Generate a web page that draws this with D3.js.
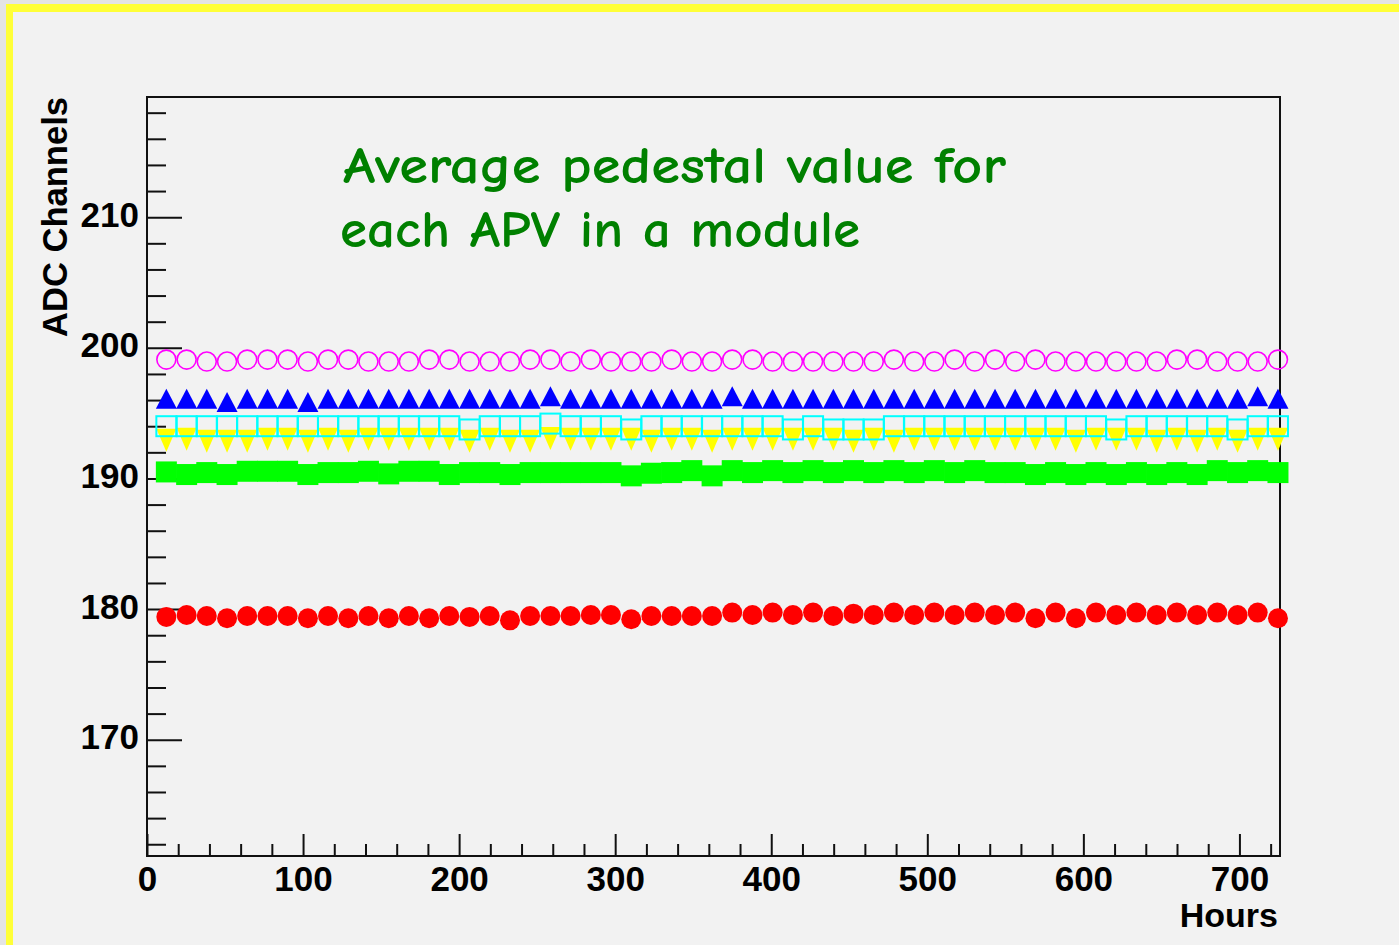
<!DOCTYPE html>
<html>
<head>
<meta charset="utf-8">
<script src="https://cdn.jsdelivr.net/npm/d3@7/dist/d3.min.js"></script>
<style>
  html, body { margin: 0; padding: 0; background: #e4e4e4; }
  svg { display: block; }
</style>
</head>
<body>
<script>
// ---------------- DATA ----------------
const hours = [12.4, 25.4, 38.3, 51.3, 64.2, 77.2, 90.1, 103.1, 116.0, 129.0,
  141.9, 154.9, 167.8, 180.8, 193.7, 206.7, 219.6, 232.6, 245.5, 258.5,
  271.4, 284.4, 297.3, 310.3, 323.2, 336.2, 349.1, 362.1, 375.0, 388.0,
  400.9, 413.9, 426.8, 439.8, 452.7, 465.7, 478.6, 491.6, 504.5, 517.5,
  530.4, 543.4, 556.3, 569.3, 582.2, 595.2, 608.1, 621.1, 634.0, 647.0,
  659.9, 672.9, 685.8, 698.8, 711.7, 724.7];

const apvMagenta = [199.1, 199.1, 198.95, 198.95, 199.1, 199.1, 199.1, 198.95, 199.1, 199.1,
  198.95, 198.95, 198.95, 199.1, 199.1, 198.95, 198.95, 198.95, 199.1, 199.1,
  198.95, 199.1, 198.95, 198.95, 198.95, 199.1, 198.95, 198.95, 199.1, 199.1,
  198.95, 198.95, 198.95, 198.95, 198.95, 198.95, 199.1, 198.95, 198.95, 199.1,
  198.95, 199.1, 198.95, 199.1, 198.95, 198.95, 198.95, 198.95, 198.95, 198.95,
  199.1, 199.1, 198.95, 198.95, 198.95, 199.1];

const apvBlue = [196.1, 196.1, 196.1, 195.85, 196.1, 196.1, 196.1, 195.85, 196.1, 196.1,
  196.1, 196.1, 196.1, 196.1, 196.1, 196.1, 196.1, 196.1, 196.1, 196.3,
  196.1, 196.1, 196.1, 196.1, 196.1, 196.1, 196.1, 196.1, 196.3, 196.1,
  196.1, 196.1, 196.1, 196.1, 196.1, 196.1, 196.1, 196.1, 196.1, 196.1,
  196.1, 196.1, 196.1, 196.1, 196.1, 196.1, 196.1, 196.1, 196.1, 196.1,
  196.1, 196.1, 196.1, 196.1, 196.3, 196.1];

const apvCyan = [194.0, 194.0, 194.0, 194.0, 194.0, 194.0, 194.0, 194.0, 194.0, 194.0,
  194.0, 194.0, 194.0, 194.0, 194.0, 193.75, 194.0, 194.0, 194.0, 194.2,
  194.0, 194.0, 194.0, 193.75, 194.0, 194.0, 194.0, 194.0, 194.0, 194.0,
  194.0, 193.75, 194.0, 193.75, 193.75, 193.75, 194.0, 194.0, 194.0, 194.0,
  194.0, 194.0, 194.0, 194.0, 194.0, 194.0, 194.0, 193.75, 194.0, 194.0,
  194.0, 194.0, 194.0, 193.75, 194.0, 194.0];

const apvYellow = [192.93, 193.0, 192.85, 192.85, 192.85, 193.0, 193.0, 192.85, 193.0, 192.85,
  193.0, 193.0, 193.0, 193.0, 193.0, 192.85, 193.0, 192.85, 192.85, 193.05,
  193.0, 193.0, 193.0, 193.0, 192.85, 193.0, 193.0, 192.85, 193.0, 193.0,
  193.0, 193.0, 193.0, 193.0, 192.85, 193.0, 192.85, 193.0, 193.0, 193.0,
  193.0, 193.0, 193.0, 193.0, 193.0, 192.85, 193.0, 193.0, 193.0, 192.85,
  193.0, 192.85, 193.0, 192.85, 193.0, 193.0];

const apvGreen = [190.5, 190.3, 190.45, 190.3, 190.55, 190.55, 190.55, 190.3, 190.45, 190.45,
  190.55, 190.35, 190.55, 190.55, 190.3, 190.45, 190.45, 190.3, 190.45, 190.45,
  190.45, 190.45, 190.45, 190.2, 190.4, 190.45, 190.6, 190.2, 190.6, 190.45,
  190.6, 190.45, 190.6, 190.45, 190.6, 190.45, 190.6, 190.45, 190.6, 190.45,
  190.6, 190.45, 190.45, 190.3, 190.45, 190.3, 190.45, 190.3, 190.45, 190.3,
  190.45, 190.3, 190.6, 190.45, 190.6, 190.45];

const apvRed = [179.4, 179.55, 179.47, 179.3, 179.47, 179.47, 179.47, 179.3, 179.47, 179.3,
  179.47, 179.3, 179.47, 179.3, 179.47, 179.4, 179.47, 179.14, 179.47, 179.47,
  179.47, 179.55, 179.55, 179.22, 179.47, 179.47, 179.47, 179.47, 179.73, 179.55,
  179.73, 179.55, 179.73, 179.47, 179.65, 179.55, 179.73, 179.55, 179.73, 179.55,
  179.73, 179.55, 179.73, 179.3, 179.73, 179.3, 179.73, 179.55, 179.73, 179.55,
  179.73, 179.55, 179.73, 179.55, 179.73, 179.3];

const xMajorTicks = [0, 100, 200, 300, 400, 500, 600, 700];
const xMinorTicks = [20, 40, 60, 80, 120, 140, 160, 180, 220, 240, 260, 280, 320, 340, 360, 380,
  420, 440, 460, 480, 520, 540, 560, 580, 620, 640, 660, 680, 720];
const yMajorTicks = [170, 180, 190, 200, 210];
const yMinorTicks = [162, 164, 166, 168, 172, 174, 176, 178, 182, 184, 186, 188,
  192, 194, 196, 198, 202, 204, 206, 208, 212, 214, 216, 218];

const xTitle = "Hours";
const yTitle = "ADC Channels";
const titleLines = ["Average pedestal value for", "each APV in a module"];

// ---------------- DRAW ----------------
const W = 1399, H = 945;
const svg = d3.select("body").append("svg").attr("width", W).attr("height", H);

svg.append("rect").attr("x", 0).attr("y", 0).attr("width", W).attr("height", H).attr("fill", "#e4e4e4");
svg.append("rect").attr("x", 6).attr("y", 4).attr("width", W).attr("height", H).attr("fill", "#ffff38");
svg.append("rect").attr("x", 13).attr("y", 12).attr("width", W).attr("height", H).attr("fill", "#f2f2f2");

const L = 147, R = 1280, T = 97, B = 856;
const x = d3.scaleLinear().domain([0, 726]).range([L, R]);
const y = d3.scaleLinear().domain([161.1, 219.2]).range([B, T]);

const font = "'Liberation Sans', Arial, Helvetica, sans-serif";

// minor ticks
const yMinorAxis = d3.axisLeft(y).tickValues(yMinorTicks).tickSize(-19).tickFormat("");
const gyMin = svg.append("g").attr("transform", `translate(${L},0)`).call(yMinorAxis);
const yMajorAxis = d3.axisLeft(y).tickValues(yMajorTicks).tickSize(-35).tickPadding(8).tickFormat(d3.format("d"));
const gy = svg.append("g").attr("transform", `translate(${L},0)`).call(yMajorAxis);

const xMinorAxis = d3.axisBottom(x).tickValues(xMinorTicks).tickSize(-12).tickFormat("");
const gxMin = svg.append("g").attr("transform", `translate(0,${B})`).call(xMinorAxis);
const xMajorAxis = d3.axisBottom(x).tickValues(xMajorTicks).tickSize(-22).tickPadding(10).tickFormat(d3.format("d"));
const gx = svg.append("g").attr("transform", `translate(0,${B})`).call(xMajorAxis);

[gyMin, gy, gxMin, gx].forEach(g => {
  g.select(".domain").remove();
  g.selectAll(".tick line").attr("stroke", "#111").attr("stroke-width", 2);
  g.selectAll(".tick text").attr("fill", "#000").attr("font-family", font)
    .attr("font-weight", "bold").attr("font-size", 35);
});
gy.selectAll(".tick text").attr("dy", "0.26em");

// frame
svg.append("rect").attr("x", L).attr("y", T).attr("width", R - L).attr("height", B - T)
  .attr("fill", "none").attr("stroke", "#111").attr("stroke-width", 2);

// axis titles
svg.append("text").attr("x", 1278).attr("y", 927).attr("text-anchor", "end")
  .attr("font-family", font).attr("font-weight", "bold").attr("font-size", 34).attr("fill", "#000")
  .text(xTitle);
svg.append("text").attr("transform", "translate(67,97) rotate(-90)").attr("text-anchor", "end")
  .attr("font-family", font).attr("font-weight", "bold").attr("font-size", 35).attr("fill", "#000")
  .attr("textLength", 240).attr("lengthAdjust", "spacingAndGlyphs")
  .text(yTitle);

// title
const tfont = "'Comic Sans MS', 'Comic Neue', 'Open Sans', 'Noto Sans', sans-serif";
svg.append("text").attr("x", 343).attr("y", 183).attr("font-family", tfont).attr("font-size", 52)
  .attr("font-weight", 600)
  .attr("fill", "#008000").attr("textLength", 663).attr("lengthAdjust", "spacingAndGlyphs")
  .text(titleLines[0]);
svg.append("text").attr("x", 340).attr("y", 247).attr("font-family", tfont).attr("font-size", 52)
  .attr("font-weight", 600)
  .attr("fill", "#008000").attr("textLength", 520).attr("lengthAdjust", "spacingAndGlyphs")
  .text(titleLines[1]);

// markers
const pts = vals => hours.map((h, i) => ({ cx: x(h), cy: y(vals[i]) }));
const gM = svg.append("g");

// red filled circles
gM.append("g").selectAll("circle").data(pts(apvRed)).join("circle")
  .attr("cx", d => d.cx).attr("cy", d => d.cy).attr("r", 10).attr("fill", "#ff0000");

// green filled squares
gM.append("g").selectAll("rect").data(pts(apvGreen)).join("rect")
  .attr("x", d => d.cx - 10.5).attr("y", d => d.cy - 10.5).attr("width", 21).attr("height", 21)
  .attr("fill", "#00ff00");

// yellow inverted triangles
gM.append("g").selectAll("path").data(pts(apvYellow)).join("path")
  .attr("d", d => `M${d.cx - 10},${d.cy - 11.5}L${d.cx + 10},${d.cy - 11.5}L${d.cx},${d.cy + 11.5}Z`)
  .attr("fill", "#ffff00");

// cyan open squares
gM.append("g").selectAll("rect").data(pts(apvCyan)).join("rect")
  .attr("x", d => d.cx - 10).attr("y", d => d.cy - 10).attr("width", 20).attr("height", 20)
  .attr("fill", "none").attr("stroke", "#00ffff").attr("stroke-width", 2);

// blue filled triangles
gM.append("g").selectAll("path").data(pts(apvBlue)).join("path")
  .attr("d", d => `M${d.cx - 10.5},${d.cy + 10}L${d.cx + 10.5},${d.cy + 10}L${d.cx},${d.cy - 10}Z`)
  .attr("fill", "#0000ff");

// magenta open circles
gM.append("g").selectAll("circle").data(pts(apvMagenta)).join("circle")
  .attr("cx", d => d.cx).attr("cy", d => d.cy).attr("r", 9.5)
  .attr("fill", "none").attr("stroke", "#ff00ff").attr("stroke-width", 1.6);
</script>
</body>
</html>
